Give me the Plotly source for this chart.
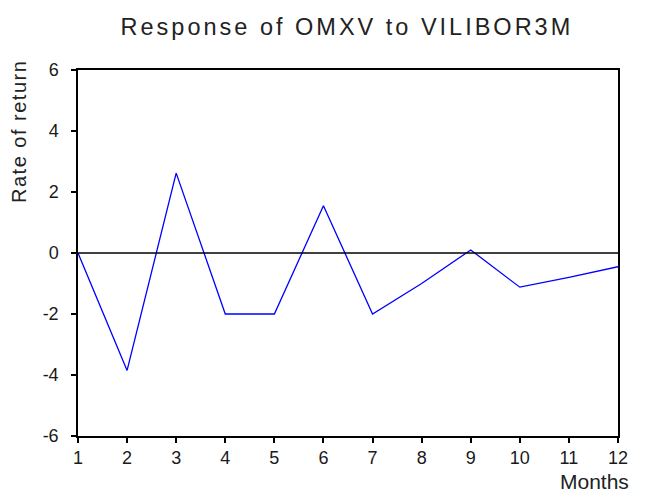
import plotly.graph_objects as go

months = [1, 2, 3, 4, 5, 6, 7, 8, 9, 10, 11, 12]
response = [0.0, -3.85, 2.62, -2.0, -2.0, 1.55, -2.0, -1.0, 0.1, -1.12, -0.8, -0.45]
y_ticks = [-6, -4, -2, 0, 2, 4, 6]
y_tick_labels = ["-6", "-4", "-2", "0", "2", "4", "6"]
x_ticks = months
x_tick_labels = [str(m) for m in months]

fig = go.Figure()
fig.add_trace(go.Scatter(x=months, y=response, mode="lines",
                         line=dict(color="#0000ff", width=1.3), showlegend=False))
fig.add_hline(y=0, line=dict(color="black", width=1.3))

axis_common = dict(showgrid=False, zeroline=False, showline=True, linecolor="black",
                   linewidth=1.5, mirror=True, ticks="outside", ticklen=5,
                   tickcolor="black", tickwidth=1.5)

fig.update_layout(
    width=637, height=486,
    margin=dict(l=70, r=27, t=62, b=58),
    paper_bgcolor="white", plot_bgcolor="white",
    font=dict(family="Liberation Sans, Arial, sans-serif", color="#1a1a1a", size=18),
    title=dict(text="<span style='letter-spacing:3px'>Response of OMXV to VILIBOR3M</span>",
               x=0.498, xref="paper", xanchor="center",
               y=0.962, yref="container", yanchor="middle",
               font=dict(size=23.5, color="#222")),
    xaxis=dict(range=[1, 12], tickvals=x_ticks, ticktext=x_tick_labels,
               ticklabelstandoff=0, **axis_common),
    yaxis=dict(range=[-6, 6], tickvals=y_ticks, ticktext=y_tick_labels,
               ticklabelstandoff=9, **axis_common),
    annotations=[
        dict(text="<span style='letter-spacing:1.5px'>Rate of return</span>",
             xref="paper", yref="paper", x=-0.109, y=0.831,
             xanchor="center", yanchor="middle", textangle=-90, showarrow=False,
             font=dict(size=20, color="#222")),
        dict(text="Months", xref="paper", yref="paper", x=0.956, y=-0.125,
             xanchor="center", yanchor="middle", showarrow=False,
             font=dict(size=21, color="#222")),
    ],
)
fig.write_html("out.html")
